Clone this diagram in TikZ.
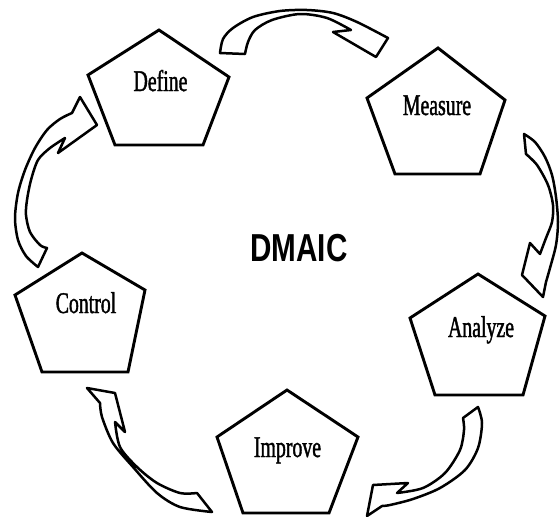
\documentclass[tikz,border=0pt]{standalone}
\usepackage{fontspec}
\newfontfamily\stepfont{Liberation Serif}[FakeStretch=0.66,FakeBold=1.3]
\newfontfamily\titlefont{Liberation Sans}[FakeStretch=0.76]
\begin{document}
\begin{tikzpicture}[x=1pt,y=-1pt,
  pent/.style={draw=black, line width=2.9pt, line join=miter},
  barrow/.style={draw=black, fill=white, line width=2.5pt, line join=round},
  lbl/.style={font=\stepfont\fontsize{30}{30}\selectfont, anchor=base, inner sep=0pt},
  ttl/.style={font=\titlefont\bfseries\fontsize{39}{39}\selectfont, anchor=base, inner sep=0pt}]
\useasboundingbox (0,0) rectangle (560,517);
\fill[white] (0,0) rectangle (560,517);
% pentagons
\draw[pent] (159,30) -- (229,77) -- (203,145) -- (115,145) -- (88,75) -- cycle;
\draw[pent] (438,48) -- (505,100) -- (480,174) -- (395,174) -- (367,98) -- cycle;
\draw[pent] (478,274) -- (545,316) -- (523,395) -- (435,395) -- (410,318) -- cycle;
\draw[pent] (287,390) -- (358,437) -- (329,513) -- (243,513) -- (217,437) -- cycle;
\draw[pent] (82,253) -- (145,290) -- (128,372) -- (42,372) -- (15,295) -- cycle;
% block arrows
\draw[barrow] plot[smooth] coordinates {(220,53) (223,39) (233,28) (253,17) (280,11) (307,10) (333,13) (357,22) (388,38)}
  -- (376,57) -- (333,32) -- (351,30)
  -- plot[smooth] coordinates {(351,30) (327,18) (300,14) (272,20) (255,30) (248,42) (245,54)} -- cycle;
\draw[barrow] plot[smooth] coordinates {(524,134) (535,142) (545,157) (552,175) (556,197) (558,222) (556,245) (550,268) (546,282)}
  -- (543,297) -- (522,275) -- (530,243) -- (540,254)
  -- plot[smooth] coordinates {(540,254) (546,238) (552,222) (553,205) (548,185) (537,165) (526,154)} -- cycle;
\draw[barrow] plot[smooth] coordinates {(478,407) (482,423) (478,448) (465,470) (440,488) (413,499) (390,505) (382,506)}
  -- (367,516) -- (373,485) -- (408,483) -- (397,493)
  -- plot[smooth] coordinates {(397,493) (423,488) (445,473) (460,450) (464,430) (463,418)} -- cycle;
\draw[barrow] plot[smooth] coordinates {(212,512) (180,507) (157,493) (133,467) (113,443) (102,417) (100,403)}
  -- (87,388) -- (115,393) -- (125,432) -- (115,422)
  -- plot[smooth] coordinates {(115,422) (120,447) (137,467) (157,483) (180,493) (197,493)} -- cycle;
\draw[barrow] plot[smooth] coordinates {(38,267) (26,256) (18,240) (15,218) (18,193) (25,170) (35,148) (47,130) (60,119) (72,113)}
  -- (80,97) -- (97,125) -- (58,153) -- (65,138)
  -- plot[smooth] coordinates {(65,138) (50,148) (38,160) (31,180) (27,200) (26,215) (30,232) (40,245) (47,248)} -- cycle;
% labels
\node[lbl] (define) at (160.5,91) {Define};
\node[lbl] (measure) at (437,115) {Measure};
\node[lbl] (analyze) at (481,337) {Analyze};
\node[lbl] (improve) at (287.5,457) {Improve};
\node[lbl] (control) at (86,313) {Control};
\node[ttl] (dmaic) at (299,261) {DMAIC};
\end{tikzpicture}
\end{document}
